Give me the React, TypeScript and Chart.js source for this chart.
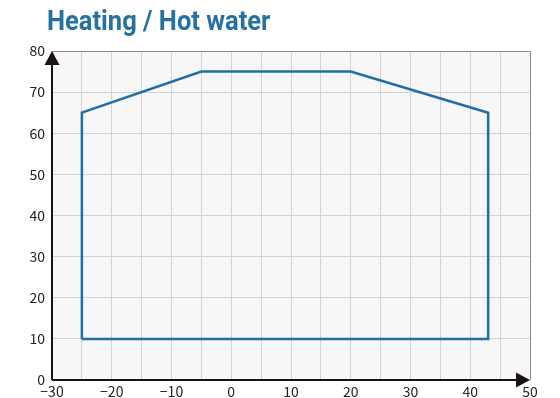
import React, { useEffect, useRef } from "react";
import { Chart, registerables } from "chart.js";

Chart.register(...registerables);

const TITLE = "Heating / Hot water";
const envelopeX = [-25, -25, -5, 20, 43, 43, -25];
const envelopeY = [10, 65, 75, 75, 65, 10, 10];
const X_MIN = -30, X_MAX = 50, X_STEP = 5;
const Y_MIN = 0, Y_MAX = 80, Y_STEP = 10;

const LINE_COLOR = "#1e6fa5";
const TITLE_COLOR = "#2770a3";

const fmt = (v: number) => (v < 0 ? "\u2212" + Math.abs(v) : String(v));

const decor = {
  id: "decor",
  beforeDraw(chart: any) {
    const { ctx, chartArea: a } = chart;
    ctx.save();
    ctx.fillStyle = "#f7f7f7";
    ctx.fillRect(a.left, a.top, a.right - a.left, a.bottom - a.top);
    ctx.restore();
  },
  afterDraw(chart: any) {
    const { ctx, chartArea: a } = chart;
    ctx.save();
    // top & right borders
    ctx.strokeStyle = "#8a8a8a";
    ctx.lineWidth = 1;
    ctx.beginPath();
    ctx.moveTo(a.left, a.top + 0.5);
    ctx.lineTo(a.right + 0.5, a.top + 0.5);
    ctx.lineTo(a.right + 0.5, a.bottom);
    ctx.stroke();
    // axes
    ctx.strokeStyle = "#1a1311";
    ctx.lineWidth = 2;
    ctx.beginPath();
    ctx.moveTo(a.left, a.bottom);
    ctx.lineTo(a.left, a.top + 10);
    ctx.moveTo(a.left, a.bottom);
    ctx.lineTo(a.right - 10, a.bottom);
    ctx.stroke();
    ctx.fillStyle = "#1a1311";
    // y arrow
    ctx.beginPath();
    ctx.moveTo(a.left, a.top);
    ctx.lineTo(a.left - 7.5, a.top + 14);
    ctx.lineTo(a.left + 7.5, a.top + 14);
    ctx.closePath();
    ctx.fill();
    // x arrow
    ctx.beginPath();
    ctx.moveTo(a.right, a.bottom);
    ctx.lineTo(a.right - 14, a.bottom - 7.5);
    ctx.lineTo(a.right - 14, a.bottom + 7.5);
    ctx.closePath();
    ctx.fill();
    // title
    ctx.fillStyle = TITLE_COLOR;
    ctx.font = "bold 27px Roboto, 'DejaVu Sans', sans-serif";
    ctx.textBaseline = "alphabetic";
    ctx.translate(47, 30);
    ctx.scale(0.945, 1);
    ctx.fillText(TITLE, 0, 0);
    ctx.restore();
  },
};

export default function App() {
  const ref = useRef<HTMLCanvasElement>(null);
  useEffect(() => {
    if (!ref.current) return;
    const data = envelopeX.map((x, i) => ({ x, y: envelopeY[i] }));
    const chart = new Chart(ref.current, {
      type: "scatter",
      data: {
        datasets: [
          {
            data,
            showLine: true,
            borderColor: LINE_COLOR,
            borderWidth: 2.5,
            pointRadius: 0,
            fill: false,
            tension: 0,
          } as any,
        ],
      },
      options: {
        animation: false,
        responsive: false,
        maintainAspectRatio: false,
        layout: { padding: { top: 51, right: 30, left: 0, bottom: 0 } },
        plugins: { legend: { display: false }, tooltip: { enabled: false }, title: { display: false } },
        scales: {
          x: {
            type: "linear",
            min: X_MIN,
            max: X_MAX,
            afterFit: (s: any) => { s.height = 18; },
            ticks: {
              stepSize: X_STEP,
              autoSkip: false,
              maxRotation: 0,
              padding: 3,
              color: "#222",
              font: { family: "'Noto Sans CJK JP', 'Noto Sans', sans-serif", size: 14 },
              callback: (v: any) => (Number(v) % 10 === 0 ? fmt(Number(v)) : ""),
            },
            grid: { color: "#d2d2d2", lineWidth: 1, drawTicks: false },
            border: { display: false },
          },
          y: {
            type: "linear",
            min: Y_MIN,
            max: Y_MAX,
            afterFit: (s: any) => { s.width = 52; },
            ticks: {
              stepSize: Y_STEP,
              padding: 7,
              color: "#222",
              font: { family: "'Noto Sans CJK JP', 'Noto Sans', sans-serif", size: 14 },
              callback: (v: any) => fmt(Number(v)),
            },
            grid: { color: "#d2d2d2", lineWidth: 1, drawTicks: false },
            border: { display: false },
          },
        },
      },
      plugins: [decor],
    });
    return () => chart.destroy();
  }, []);
  return (
    <div style={{ position: "absolute", left: 0, top: 0, width: 560, height: 398, background: "#fff" }}>
      <canvas ref={ref} width={560} height={398} style={{ width: 560, height: 398, display: "block" }} />
    </div>
  );
}
